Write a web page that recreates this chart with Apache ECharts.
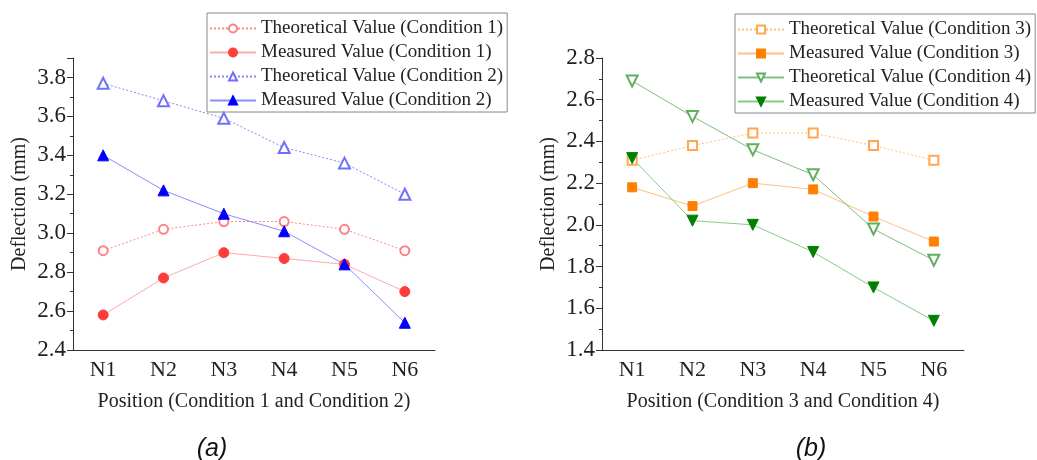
<!DOCTYPE html>
<html>
<head>
<meta charset="utf-8">
<script src="https://cdn.jsdelivr.net/npm/echarts@6/dist/echarts.min.js"></script>
<style>
html,body{margin:0;padding:0;background:#fff;}
#c{width:1037px;height:460px;}
</style>
</head>
<body>
<div id="c"></div>
<script>
var categories = ['N1','N2','N3','N4','N5','N6'];
var theoC1 = [2.91, 3.02, 3.06, 3.06, 3.02, 2.91];
var measC1 = [2.58, 2.77, 2.90, 2.87, 2.84, 2.70];
var theoC2 = [3.77, 3.68, 3.59, 3.44, 3.36, 3.20];
var measC2 = [3.40, 3.22, 3.10, 3.01, 2.84, 2.54];
var theoC3 = [2.31, 2.38, 2.44, 2.44, 2.38, 2.31];
var measC3 = [2.18, 2.09, 2.20, 2.17, 2.04, 1.92];
var theoC4 = [2.69, 2.52, 2.36, 2.24, 1.98, 1.83];
var measC4 = [2.32, 2.02, 2.00, 1.87, 1.70, 1.54];
var namesA = ['Theoretical Value (Condition 1)','Measured Value (Condition 1)','Theoretical Value (Condition 2)','Measured Value (Condition 2)'];
var namesB = ['Theoretical Value (Condition 3)','Measured Value (Condition 3)','Theoretical Value (Condition 4)','Measured Value (Condition 4)'];
var xTitleA = 'Position (Condition 1 and Condition 2)';
var xTitleB = 'Position (Condition 3 and Condition 4)';
var yTitle = 'Deflection (mm)';

var serif = 'Liberation Serif';
var axisCol = '#333';

function catAxis(gi, name){
  return {
    type:'category', gridIndex:gi, data:categories, boundaryGap:true,
    name:name, nameLocation:'middle', nameGap:42,
    nameTextStyle:{fontFamily:serif, fontSize:20, color:'#222'},
    axisLine:{lineStyle:{color:axisCol, width:1}},
    axisTick:{alignWithLabel:true, inside:false, length:6, lineStyle:{color:axisCol}},
    axisLabel:{fontFamily:serif, fontSize:22, color:'#222', margin:9},
    splitLine:{show:false}
  };
}
function bndAxis(gi){
  return {
    type:'category', gridIndex:gi, data:categories, boundaryGap:true, position:'bottom',
    axisLine:{show:false},
    axisTick:{alignWithLabel:false, length:3, lineStyle:{color:axisCol}},
    axisLabel:{show:false}, splitLine:{show:false}
  };
}
function valAxis(gi, mn, mx){
  return {
    type:'value', gridIndex:gi, min:mn, max:mx, interval:0.2,
    name:yTitle, nameLocation:'middle', nameGap:43,
    nameTextStyle:{fontFamily:serif, fontSize:20, color:'#222'},
    axisLine:{show:true, lineStyle:{color:axisCol, width:1}},
    axisTick:{show:true, inside:false, length:6, lineStyle:{color:axisCol}},
    minorTick:{show:true, splitNumber:2, length:3, lineStyle:{color:axisCol}},
    axisLabel:{fontFamily:serif, fontSize:23, color:'#222', margin:7,
      formatter:function(v){ return v.toFixed(1); }, showMaxLabel: mx===3.9 ? false : true},
    splitLine:{show:false}, minorSplitLine:{show:false}
  };
}
function ser(name, data, gi, symbol, rot, lineColor, lineType, markColor, size){
  return {
    type:'line', name:name, data:data, xAxisIndex:gi*2, yAxisIndex:gi,
    symbol:symbol, symbolSize:size, symbolRotate:rot,
    lineStyle:{color:lineColor, width:1, type:lineType},
    itemStyle:{color:markColor, borderColor:markColor, borderWidth:1},
    emphasis:{disabled:true}, animation:false
  };
}
function legend(left, top, names){
  return {
    data:names, left:left, top:top, orient:'vertical',
    itemWidth:46, itemHeight:10, itemGap:5,
    padding:[6,4,2,2],
    borderColor:'#888', borderWidth:1,
    textStyle:{fontFamily:serif, fontSize:19, color:'#222'}
  };
}

var chart = echarts.init(document.getElementById('c'), null, {renderer:'canvas'});
chart.setOption({
  backgroundColor:'#fff',
  animation:false,
  grid:[
    {left:73, top:58, width:362, height:292},
    {left:602, top:58, width:362, height:292}
  ],
  xAxis:[catAxis(0, xTitleA), bndAxis(0), catAxis(1, xTitleB), bndAxis(1)],
  yAxis:[valAxis(0, 2.4, 3.9), valAxis(1, 1.4, 2.8)],
  legend:[legend(207, 13, namesA), legend(735, 14, namesB)],
  title:[
    {text:'(a)', left:207, top:432, textAlign:'center', textStyle:{fontFamily:'Liberation Sans', fontStyle:'italic', fontWeight:'normal', fontSize:25, color:'#111'}},
    {text:'(b)', left:806, top:432, textAlign:'center', textStyle:{fontFamily:'Liberation Sans', fontStyle:'italic', fontWeight:'normal', fontSize:25, color:'#111'}}
  ],
  series:[
    ser(namesA[0], theoC1, 0, 'emptyCircle', 0, '#ff8a8a', [2,2], '#ff8080', 9),
    ser(namesA[1], measC1, 0, 'circle', 0, '#ffaaaa', 'solid', '#ff3c3c', 10),
    ser(namesA[2], theoC2, 0, 'emptyTriangle', 0, '#8888ff', [2,2], '#7070ff', 11),
    ser(namesA[3], measC2, 0, 'triangle', 0, '#8c8cff', 'solid', '#0000ff', 11),
    ser(namesB[0], theoC3, 1, 'emptyRect', 0, '#ffc080', [2,2], '#ffa850', 9),
    ser(namesB[1], measC3, 1, 'rect', 0, '#ffc080', 'solid', '#ff8000', 9),
    ser(namesB[2], theoC4, 1, 'emptyTriangle', 180, '#80c080', 'solid', '#60b060', 11),
    ser(namesB[3], measC4, 1, 'triangle', 180, '#88cc88', 'solid', '#008000', 11)
  ]
});
</script>
</body>
</html>
